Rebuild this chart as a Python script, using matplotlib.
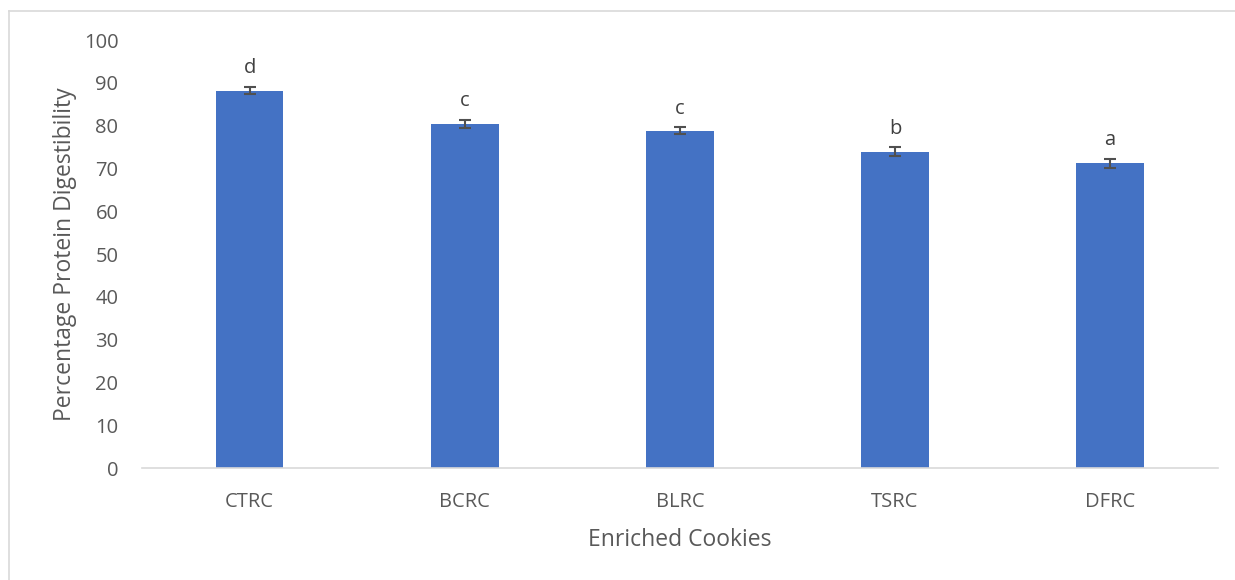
import matplotlib
matplotlib.use("Agg")
import matplotlib.pyplot as plt
from matplotlib.lines import Line2D

cookies = ["CTRC", "BCRC", "BLRC", "TSRC", "DFRC"]
digestibility = [88.2, 80.4, 78.8, 73.9, 71.2]
std_err = [0.9, 1.0, 0.85, 1.0, 1.1]
groups = ["d", "c", "c", "b", "a"]
y_ticks = [0, 10, 20, 30, 40, 50, 60, 70, 80, 90, 100]

plt.rcParams['font.family'] = ['Open Sans', 'DejaVu Sans']
text_col = '#595959'

fig = plt.figure(figsize=(12.35, 5.8), dpi=100)
ax = fig.add_axes([0.115, 0.193, 0.871, 0.738])

x = range(len(cookies))
ax.bar(x, digestibility, width=0.315, color='#4472C4', zorder=2)
ax.errorbar(x, digestibility, yerr=std_err, fmt='none', ecolor='#505050',
            elinewidth=1.5, capsize=4.5, capthick=1.5, zorder=3)

for i, (v, e, g) in enumerate(zip(digestibility, std_err, groups)):
    ax.annotate(g, (i, v + e), xytext=(0, 6), textcoords='offset points',
                ha='center', va='bottom', fontsize=14.5, color='#404040')

ax.set_xlim(-0.5, len(cookies) - 0.5)
ax.set_ylim(0, 100)
ax.set_yticks(y_ticks)
ax.set_xticks(list(x))
ax.set_xticklabels(cookies)
ax.tick_params(axis='both', length=0, labelsize=14.5, colors=text_col)
ax.tick_params(axis='x', pad=17)
ax.tick_params(axis='y', pad=17)

for side in ['top', 'right', 'left']:
    ax.spines[side].set_visible(False)
ax.spines['bottom'].set_color('#d9d9d9')
ax.spines['bottom'].set_linewidth(1.2)

ax.set_xlabel("Enriched Cookies", fontsize=16.5, color=text_col, labelpad=12)
ax.set_ylabel("Percentage Protein Digestibility", fontsize=16.5, color=text_col, labelpad=5)

# chart area frame
fig.add_artist(Line2D([9 / 1235, 1], [1 - 11 / 580, 1 - 11 / 580],
                      transform=fig.transFigure, color='#d9d9d9', lw=1.2))
fig.add_artist(Line2D([9 / 1235, 9 / 1235], [0, 1 - 11 / 580],
                      transform=fig.transFigure, color='#d9d9d9', lw=1.2))

fig.savefig("out.png", dpi=100)
